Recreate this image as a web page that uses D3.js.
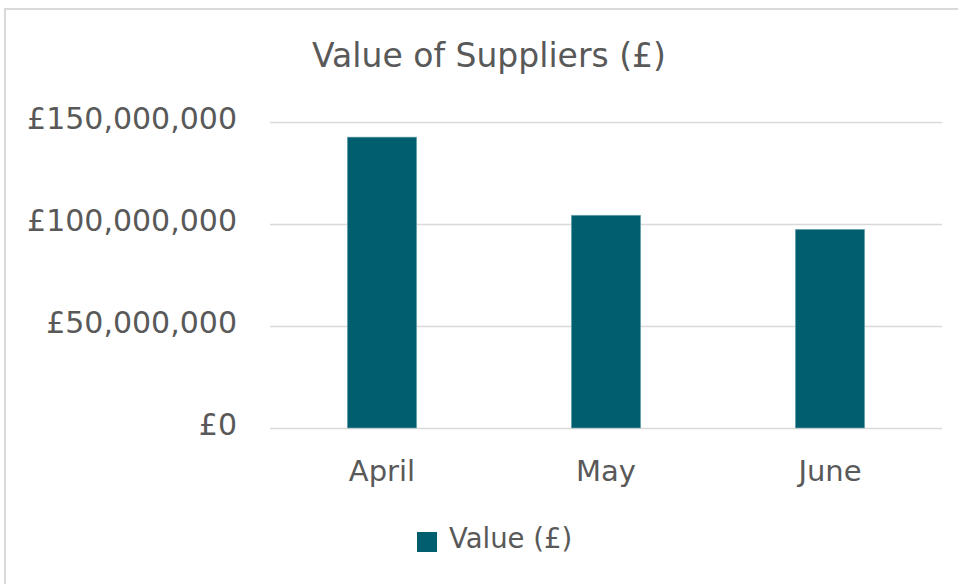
<!DOCTYPE html>
<html><head><meta charset="utf-8">
<script src="https://cdn.jsdelivr.net/npm/d3@7"></script>
<style>
html,body{margin:0;padding:0;background:#fff;}
svg{display:block;}
</style></head>
<body><svg id="chart" width="958" height="584"></svg>
<script>
const title = "Value of Suppliers (£)";
const categories = ["April", "May", "June"];
const values = [142600000, 104300000, 97400000];
const yTicks = [0, 50000000, 100000000, 150000000];
const seriesName = "Value (£)";

const W = 958, H = 584;
const margin = {left: 270, right: 16, top: 122, bottom: 156};
const svg = d3.select("#chart");
const textColor = "#595959";
const barColor = "#005e6e";
const font = "'DejaVu Sans', sans-serif";

svg.append("rect").attr("x", 5).attr("y", 9).attr("width", W + 20).attr("height", H + 20)
  .attr("fill", "#fff").attr("stroke", "#d9d9d9").attr("stroke-width", 2);

const x = d3.scaleBand().domain(categories).range([margin.left, W - margin.right]).paddingInner(0.69).paddingOuter(0.345);
const y = d3.scaleLinear().domain([0, 150000000]).range([H - margin.bottom, margin.top]);

const fmt = v => "£" + d3.format(",")(v);

const yAxis = svg.append("g").attr("transform", `translate(${margin.left},0)`)
  .call(d3.axisLeft(y).tickValues(yTicks).tickFormat(fmt).tickSize(-(W - margin.right - margin.left)).tickPadding(33));
yAxis.select(".domain").remove();
yAxis.selectAll(".tick line").attr("stroke", "#d9d9d9").attr("stroke-width", 1.5);
yAxis.selectAll(".tick text").attr("fill", textColor).attr("font-family", font).attr("font-size", 30).attr("dy", "0.2em");

svg.append("g").selectAll("rect").data(categories).join("rect")
  .attr("x", d => x(d)).attr("width", x.bandwidth())
  .attr("y", (d, i) => y(values[i])).attr("height", (d, i) => y(0) - y(values[i]))
  .attr("fill", barColor).attr("stroke", "#7fb0b8").attr("stroke-width", 0.6);

const xAxis = svg.append("g").attr("transform", `translate(0,${y(0)})`)
  .call(d3.axisBottom(x).tickSize(0).tickPadding(32));
xAxis.select(".domain").remove();
xAxis.selectAll(".tick text").attr("fill", textColor).attr("font-family", font).attr("font-size", 29);

svg.append("text").attr("x", 489).attr("y", 67).attr("text-anchor", "middle")
  .attr("fill", textColor).attr("font-family", font).attr("font-size", 33)
  .text(title);

const lg = svg.append("g");
lg.append("rect").attr("x", 417).attr("y", 532).attr("width", 20).attr("height", 20).attr("fill", barColor);
lg.append("text").attr("x", 449).attr("y", 548).attr("fill", textColor).attr("font-family", font).attr("font-size", 27.5).text(seriesName);
</script></body></html>
